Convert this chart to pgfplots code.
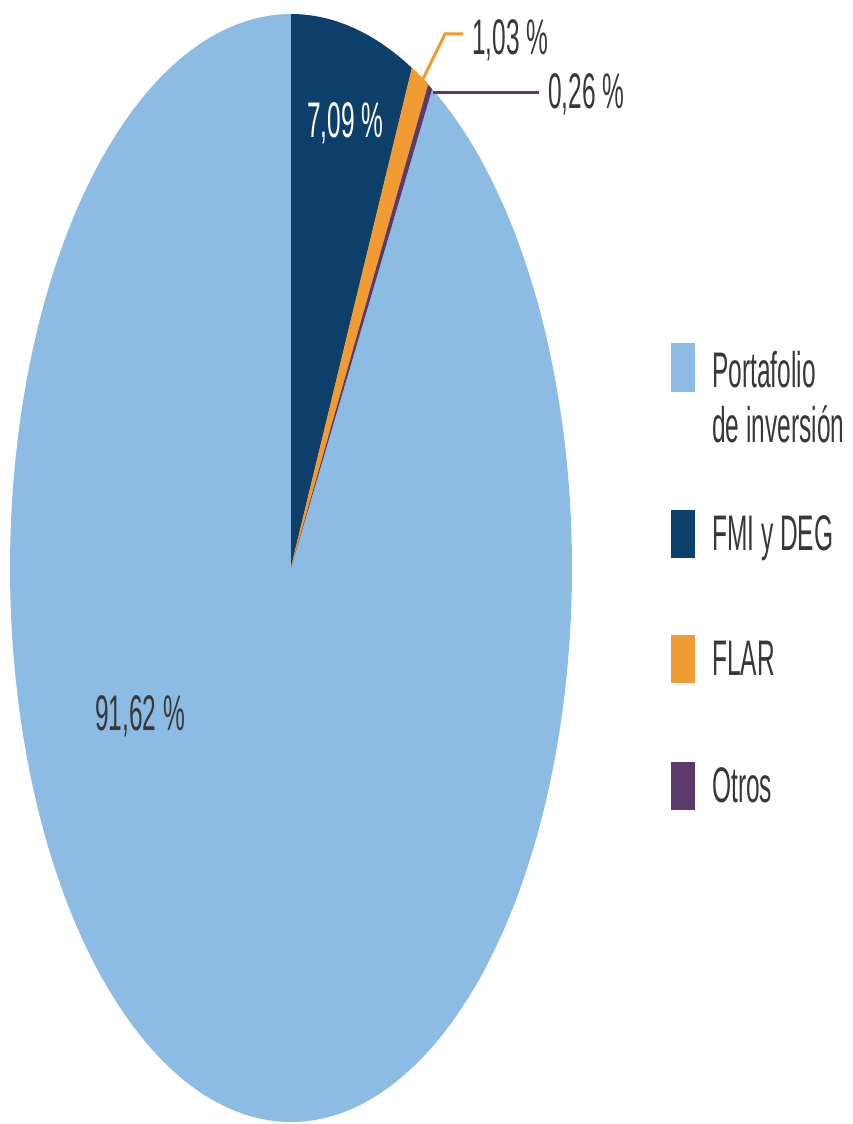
\documentclass[border=0pt]{standalone}
\usepackage{fontspec}
\setmainfont[FakeStretch=0.49]{Liberation Sans}
\usepackage{pgfplots}
\usepackage{pgfplotstable}
\pgfplotsset{compat=1.18}
\definecolor{cPort}{HTML}{8CBCE4}
\definecolor{cFMI}{HTML}{0D3F6B}
\definecolor{cFLAR}{HTML}{F09C33}
\definecolor{cOtros}{HTML}{5B3A6B}
\definecolor{cText}{HTML}{383838}

\pgfplotstableread{
cat value
Portafolio 91.62
FMI 7.09
FLAR 1.03
Otros 0.26
}\piedata

\pgfplotstablegetelem{0}{value}\of\piedata \let\vP\pgfplotsretval
\pgfplotstablegetelem{1}{value}\of\piedata \let\vF\pgfplotsretval
\pgfplotstablegetelem{2}{value}\of\piedata \let\vL\pgfplotsretval
\pgfplotstablegetelem{3}{value}\of\piedata \let\vO\pgfplotsretval
\pgfmathsetmacro\aA{90}
\pgfmathsetmacro\aB{\aA-3.6*\vF}
\pgfmathsetmacro\aC{\aB-3.6*\vL}
\pgfmathsetmacro\aD{\aC-3.6*\vO}
\pgfmathsetmacro\aE{\aD-3.6*\vP}
\def\cx{291}\def\cy{568}\def\rx{281}\def\ry{554}

\begin{document}
\begin{tikzpicture}[x=1pt,y=1pt]
\useasboundingbox (0,0) rectangle (852,1124);
\begin{axis}[at={(0,0)},anchor=south west,scale only axis,
  width=852pt,height=1124pt,xmin=0,xmax=852,ymin=0,ymax=1124,
  y dir=reverse,hide axis,clip=false]
\addplot[fill=cPort,draw=none,domain=\aE:\aD,samples=300]
  ({\cx+\rx*cos(x)},{\cy-\ry*sin(x)}) -- (axis cs:\cx,\cy) -- cycle;
\addplot[fill=cFMI,draw=none,domain=\aB:\aA,samples=60]
  ({\cx+\rx*cos(x)},{\cy-\ry*sin(x)}) -- (axis cs:\cx,\cy) -- cycle;
\addplot[fill=cFLAR,draw=cFLAR,line width=0.6pt,domain=\aC:\aB,samples=20]
  ({\cx+\rx*cos(x)},{\cy-\ry*sin(x)}) -- (axis cs:\cx,\cy) -- cycle;
\addplot[fill=cOtros,draw=none,domain=\aD:\aC,samples=10]
  ({\cx+\rx*cos(x)},{\cy-\ry*sin(x)}) -- (axis cs:\cx,\cy) -- cycle;

% leader lines
\draw[cFLAR,line width=3pt] (axis cs:422,81) -- (axis cs:445,34) -- (axis cs:463,34);
\draw[cOtros,line width=3pt] (axis cs:433,92) -- (axis cs:539,92);

% slice labels
\tikzset{lab/.style={anchor=base west,inner sep=0pt,font=\fontsize{50}{60}\selectfont,text=cText}}
\node[lab,text=white] at (axis cs:307,137) {7,09 \%};
\node[lab] at (axis cs:472,55) {1,03 \%};
\node[lab] at (axis cs:548,108) {0,26 \%};
\node[lab] at (axis cs:95,730) {91,62 \%};

% legend
\fill[cPort] (axis cs:671,343) rectangle (axis cs:695,392);
\fill[cFMI] (axis cs:671,510) rectangle (axis cs:695,558);
\fill[cFLAR] (axis cs:671,635) rectangle (axis cs:695,683);
\fill[cOtros] (axis cs:671,762) rectangle (axis cs:695,810);
\node[lab] at (axis cs:712,387) {Portafolio};
\node[lab] at (axis cs:712,442) {de inversión};
\node[lab] at (axis cs:712,550) {FMI y DEG};
\node[lab] at (axis cs:712,675) {FLAR};
\node[lab] at (axis cs:712,802) {Otros};
\end{axis}
\end{tikzpicture}
\end{document}
